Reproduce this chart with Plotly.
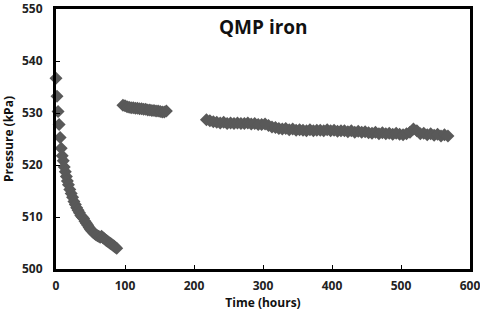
import plotly.graph_objects as go

# Segment 1: initial decay
t1 = [0, 1.5, 3, 4.5, 6, 7.5, 9, 10.5, 12, 13.5, 15, 16.5, 18, 20, 22, 24, 26, 28, 30, 32,
      34, 36, 38, 40, 42, 44, 46, 48, 50, 52, 54, 56, 58, 60, 62, 64, 66, 68, 70, 72,
      74, 76, 78, 80, 82, 84, 86, 88]
p1 = [536.7, 533.2, 530.3, 527.8, 525.3, 523.2, 521.8, 520.8, 519.6, 518.7, 517.8, 516.9,
      516.2, 515.3, 514.5, 513.8, 513.0, 512.4, 511.8, 511.3, 510.8, 510.3, 510.0, 509.7,
      509.2, 508.8, 508.4, 508.0, 507.6, 507.3, 507.0, 506.8, 506.6, 506.4, 506.3, 506.1,
      506.3, 506.0, 505.8, 505.6, 505.4, 505.2, 505.0, 504.8, 504.6, 504.4, 504.2, 504.0]

# Segment 2
t2 = [97, 100, 103, 106, 109, 112, 115, 118, 121, 124, 127, 130, 133, 136, 139, 142, 145,
      148, 151, 154, 157, 160]
p2 = [531.5, 531.4, 531.2, 531.1, 531.0, 531.0, 530.9, 530.9, 530.8, 530.8, 530.7, 530.7,
      530.6, 530.6, 530.5, 530.5, 530.4, 530.4, 530.3, 530.2, 530.2, 530.4]

# Segment 3
t3 = [218, 223, 228, 233, 238, 243, 248, 253, 258, 263, 268, 273, 278, 283, 288, 293, 298,
      303, 308, 313, 318, 323, 328, 333, 338, 343, 348, 353, 358, 363, 368, 373, 378, 383,
      388, 393, 398, 403, 408, 413, 418, 423, 428, 433, 438, 443, 448, 453, 458, 463, 468,
      473, 478, 483, 488, 493, 498, 503, 508, 513, 518, 523, 528, 533, 538, 543, 548, 553,
      558, 563, 568]
p3 = [528.7, 528.5, 528.3, 528.2, 528.1, 528.2, 528.0, 528.1, 528.0, 528.1, 528.0, 528.0,
      528.1, 527.9, 528.0, 527.8, 527.8, 527.9, 527.6, 527.3, 527.2, 527.0, 526.9, 527.0,
      526.8, 526.9, 526.7, 526.8, 526.7, 526.6, 526.8, 526.6, 526.7, 526.7, 526.6, 526.8,
      526.6, 526.7, 526.5, 526.6, 526.6, 526.4, 526.6, 526.3, 526.5, 526.3, 526.4, 526.2,
      526.1, 526.3, 526.0, 526.2, 526.0, 526.1, 525.9, 526.1, 525.9, 525.8, 526.0, 526.3,
      526.9, 526.6, 526.0, 526.1, 525.8, 526.0, 525.7, 525.9, 525.6, 525.8, 525.6]

x_ticks = [0, 100, 200, 300, 400, 500, 600]
y_ticks = [500, 510, 520, 530, 540, 550]

color = "#595959"
fig = go.Figure()
for t, p in [(t1, p1), (t2, p2), (t3, p3)]:
    fig.add_trace(go.Scatter(x=t, y=p, mode="markers", cliponaxis=False,
                             marker=dict(symbol="diamond", size=10, color=color),
                             showlegend=False))

font_family = "Open Sans"
fig.update_layout(
    width=480, height=317,
    margin=dict(l=56, r=10, t=9, b=48, autoexpand=False),
    plot_bgcolor="white", paper_bgcolor="white",
    font=dict(family=font_family, color="#111"),
    annotations=[dict(text="<b>QMP iron</b>", x=0.5, y=0.99, xref="paper", yref="paper",
                      xanchor="center", yanchor="top", showarrow=False,
                      font=dict(size=19, color="#111", family=font_family))],
)
axis_common = dict(showgrid=False, zeroline=False, showline=True, linewidth=3,
                   linecolor="black", mirror=True, ticks="inside", ticklen=4,
                   tickwidth=1, tickcolor="black", automargin=False,
                   ticklabeloverflow="allow",
                   tickfont=dict(size=12, weight="bold", color="#222", family=font_family),
                   title_font=dict(size=12, weight="bold", color="#111", family=font_family))
fig.update_xaxes(range=[0, 600], tickvals=x_ticks, title_text="Time (hours)",
                 ticklabelstandoff=4, title_standoff=5, **axis_common)
fig.update_yaxes(range=[500, 550], tickvals=y_ticks, title_text="Pressure (kPa)",
                 ticklabelstandoff=8, title_standoff=9, **axis_common)

fig.write_html("out.html", config={"displayModeBar": False})

# remove default page margin so the figure sits at the window's top-left corner
with open("out.html", "r", encoding="utf-8") as f:
    html = f.read()
html = html.replace("<head>", "<head><style>html,body{margin:0;padding:0;overflow:hidden;}</style>", 1)
with open("out.html", "w", encoding="utf-8") as f:
    f.write(html)
